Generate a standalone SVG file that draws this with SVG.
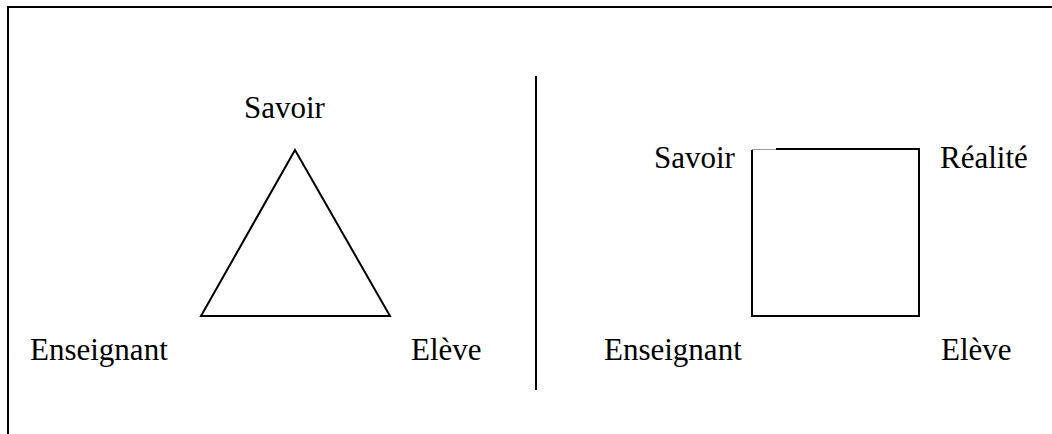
<svg xmlns="http://www.w3.org/2000/svg" width="1052" height="434" viewBox="0 0 1052 434">
<style>
text{font-family:'Liberation Serif','Times New Roman',serif;font-size:31px;fill:#000}
.ln{stroke:#000;stroke-width:2;fill:none}
</style>
<rect width="1052" height="434" fill="#fff"/>
<g id="frame">
<line class="ln" x1="7" y1="7" x2="1052" y2="7"/>
<line class="ln" x1="8" y1="6" x2="8" y2="434"/>
</g>
<g id="connectors">
<line class="ln" x1="536" y1="76" x2="536" y2="390"/>
<polygon class="ln" points="295,150 201,316 390,316" stroke-linejoin="miter"/>
<line x1="752" y1="149.5" x2="776" y2="149.5" stroke="#999" stroke-width="1"/>
<polyline class="ln" points="776,149 919,149 919,316 752,316 752,150"/>
</g>
<g id="n-savoir1"><text x="244" y="118">Savoir</text></g>
<g id="n-enseignant1"><text x="30" y="360">Enseignant</text></g>
<g id="n-eleve1"><text x="411" y="360">Elève</text></g>
<g id="n-savoir2"><text x="654" y="168">Savoir</text></g>
<g id="n-realite"><text x="940" y="168">Réalité</text></g>
<g id="n-enseignant2"><text x="604" y="360">Enseignant</text></g>
<g id="n-eleve2"><text x="941" y="360">Elève</text></g>
</svg>
